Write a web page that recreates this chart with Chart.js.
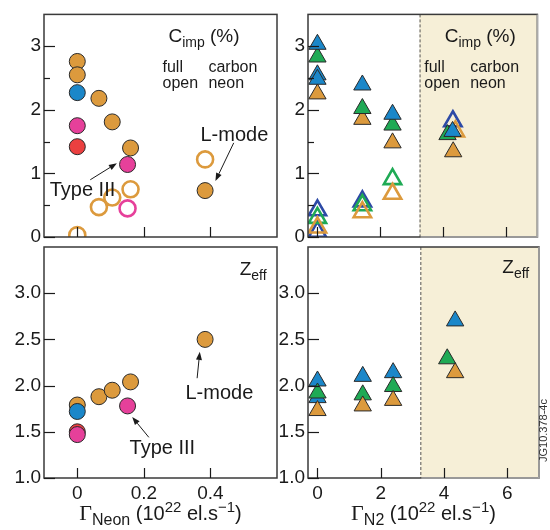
<!DOCTYPE html>
<html>
<head>
<meta charset="utf-8">
<script src="https://cdn.jsdelivr.net/npm/chart.js@4.4.0/dist/chart.umd.min.js"></script>
<style>
  body { margin: 0; background: #fff; }
  #wrap { position: relative; width: 550px; height: 530px; overflow: hidden; }
  canvas { position: absolute; left: 0; top: 0; }
</style>
</head>
<body>
<div id="wrap">
  <canvas id="cTL" width="550" height="530"></canvas>
  <canvas id="cTR" width="550" height="530"></canvas>
  <canvas id="cBL" width="550" height="530"></canvas>
  <canvas id="cBR" width="550" height="530"></canvas>
</div>
<script>
// ---- data: C_imp vs neon puff (top left) ----
const neonCarbonOrangeX = [0, 0, 0.065, 0.105, 0.16, 0.384];
const neonCarbonOrangeY = [2.76, 2.55, 2.18, 1.81, 1.40, 0.73];
const neonCarbonBlueX = [0];
const neonCarbonBlueY = [2.27];
const neonCarbonPinkX = [0, 0.151];
const neonCarbonPinkY = [1.75, 1.14];
const neonCarbonRedX = [0];
const neonCarbonRedY = [1.42];
const neonNeonOrangeX = [0, 0.065, 0.105, 0.16, 0.384];
const neonNeonOrangeY = [0.03, 0.47, 0.62, 0.75, 1.22];
const neonNeonPinkX = [0.151];
const neonNeonPinkY = [0.45];

// ---- data: Zeff vs neon puff (bottom left) ----
const neonZeffOrangeX = [0, 0.065, 0.105, 0.16, 0.384];
const neonZeffOrangeY = [1.79, 1.88, 1.95, 2.04, 2.50];
const neonZeffBlueX = [0];
const neonZeffBlueY = [1.72];
const neonZeffRedX = [0];
const neonZeffRedY = [1.50];
const neonZeffPinkX = [0, 0.151];
const neonZeffPinkY = [1.47, 1.78];

// ---- data: C_imp vs N2 puff (top right) ----
const n2CarbonBlueX = [0, 0, 0, 1.43, 2.39, 4.30];
const n2CarbonBlueY = [3.03, 2.55, 2.48, 2.39, 1.93, 1.66];
const n2CarbonGreenX = [0, 1.43, 2.39, 4.14];
const n2CarbonGreenY = [2.83, 2.02, 1.76, 1.61];
const n2CarbonOrangeX = [0, 1.43, 2.39, 4.32];
const n2CarbonOrangeY = [2.25, 1.85, 1.48, 1.34];
const n2NeonNavyX = [0, 0, 1.43, 4.31];
const n2NeonNavyY = [0.42, 0.08, 0.56, 1.82];
const n2NeonGreenX = [0, 1.43, 2.39];
const n2NeonGreenY = [0.30, 0.50, 0.91];
const n2NeonOrangeX = [0, 1.43, 2.39, 4.39];
const n2NeonOrangeY = [0.15, 0.39, 0.68, 1.66];

// ---- data: Zeff vs N2 puff (bottom right) ----
const n2ZeffBlueX = [0, 0, 1.43, 2.39, 4.35];
const n2ZeffBlueY = [2.05, 1.87, 2.10, 2.14, 2.70];
const n2ZeffGreenX = [0, 1.43, 2.39, 4.10];
const n2ZeffGreenY = [1.92, 1.90, 1.99, 2.29];
const n2ZeffOrangeX = [0, 1.43, 2.39, 4.35];
const n2ZeffOrangeY = [1.73, 1.78, 1.84, 2.14];

// ---- ticks ----
const cimpTicks = [0, 0.5, 1, 1.5, 2, 2.5, 3];
const cimpTickLabels = ['0', '', '1', '', '2', '', '3'];
const zeffTicks = [1, 1.5, 2, 2.5, 3];
const zeffTickLabels = ['1.0', '1.5', '2.0', '2.5', '3.0'];
const neonTicks = [0, 0.2, 0.4];
const neonTickLabels = ['0', '0.2', '0.4'];
const n2Ticks = [0, 2, 4, 6];
const n2TickLabels = ['0', '2', '4', '6'];
const n2DetachStart = 3.25;   // shaded region starts here

const ORANGE = '#dc9a3d';
const BLUE = '#1b87c9';
const PINK = '#e6409a';
const RED = '#eb4040';
const GREEN = '#1faa55';
const NAVY = '#2d4aa6';
const SHADE = '#f6efd7';
const SANS = '"Liberation Sans", Arial, sans-serif';
const SERIF = '"Liberation Serif", "Times New Roman", serif';
const INK = '#1a1a1a';

function pts(xs, ys) {
  return xs.map((x, i) => ({ x: x, y: ys[i] }));
}

function full(xs, ys, color, style) {
  return {
    data: pts(xs, ys), pointStyle: style, backgroundColor: color,
    borderColor: '#2a2a2a', borderWidth: 1,
    pointRadius: style === 'circle' ? 8 : 10, showLine: false
  };
}

function open(xs, ys, color, style) {
  return {
    data: pts(xs, ys), pointStyle: style, backgroundColor: 'rgba(0,0,0,0)',
    borderColor: color, borderWidth: 2.6,
    pointRadius: style === 'circle' ? 8 : 10, showLine: false
  };
}

// rich text: parts = [text, size, dy, serif]
function richWidth(ctx, parts) {
  let w = 0;
  parts.forEach(p => {
    ctx.font = p[1] + 'px ' + (p[3] ? SERIF : SANS);
    w += ctx.measureText(p[0]).width;
  });
  return w;
}
function drawRich(ctx, x, y, parts, center) {
  let cx = center ? x - richWidth(ctx, parts) / 2 : x;
  ctx.textAlign = 'left';
  ctx.textBaseline = 'alphabetic';
  parts.forEach(p => {
    ctx.font = p[1] + 'px ' + (p[3] ? SERIF : SANS);
    ctx.fillText(p[0], cx, y + (p[2] || 0));
    cx += ctx.measureText(p[0]).width;
  });
}

function drawArrow(ctx, x1, y1, x2, y2) {
  const a = Math.atan2(y2 - y1, x2 - x1);
  const hl = 8, hw = 3;
  const bx = x2 - hl * Math.cos(a), by = y2 - hl * Math.sin(a);
  ctx.strokeStyle = INK;
  ctx.fillStyle = INK;
  ctx.lineWidth = 1;
  ctx.beginPath();
  ctx.moveTo(x1, y1);
  ctx.lineTo(bx, by);
  ctx.stroke();
  ctx.beginPath();
  ctx.moveTo(x2, y2);
  ctx.lineTo(bx + hw * Math.sin(a), by - hw * Math.cos(a));
  ctx.lineTo(bx - hw * Math.sin(a), by + hw * Math.cos(a));
  ctx.closePath();
  ctx.fill();
}

// frame, inner ticks, shading and annotations for one panel
function panelPlugin(cfg) {
  return {
    id: 'panel',
    beforeDatasetsDraw(chart) {
      if (cfg.shadeFrom === undefined) return;
      const ctx = chart.ctx, a = chart.chartArea;
      const xs = chart.scales.x.getPixelForValue(cfg.shadeFrom);
      ctx.save();
      ctx.fillStyle = SHADE;
      ctx.fillRect(xs, a.top, a.right - xs, a.bottom - a.top);
      ctx.strokeStyle = '#555';
      ctx.lineWidth = 1;
      ctx.setLineDash([3, 2]);
      ctx.beginPath();
      ctx.moveTo(xs + 0.5, a.top);
      ctx.lineTo(xs + 0.5, a.bottom);
      ctx.stroke();
      ctx.restore();
    },
    afterDatasetsDraw(chart) {
      const ctx = chart.ctx, a = chart.chartArea;
      const sx = chart.scales.x, sy = chart.scales.y;
      ctx.save();
      ctx.strokeStyle = '#3a3a3a';
      ctx.lineWidth = 1.5;
      ctx.strokeRect(a.left, a.top, a.right - a.left, a.bottom - a.top);
      if (cfg.shadeFrom !== undefined) {
        const xs = sx.getPixelForValue(cfg.shadeFrom);
        ctx.strokeStyle = '#aaa';
        ctx.beginPath();
        ctx.moveTo(xs + 1, a.bottom);
        ctx.lineTo(a.right, a.bottom);
        ctx.lineTo(a.right, a.top);
        ctx.stroke();
      }
      // inward tick marks
      ctx.strokeStyle = INK;
      ctx.lineWidth = 1.2;
      sy.ticks.forEach((t, i) => {
        const y = Math.round(sy.getPixelForValue(t.value)) + 0.5;
        const len = cfg.yLabels[i] ? 11 : 6;
        ctx.beginPath();
        ctx.moveTo(a.left, y);
        ctx.lineTo(a.left + len, y);
        ctx.stroke();
      });
      sx.ticks.forEach(t => {
        const x = Math.round(sx.getPixelForValue(t.value)) + 0.5;
        ctx.beginPath();
        ctx.moveTo(x, a.bottom);
        ctx.lineTo(x, a.bottom - 10);
        ctx.stroke();
      });
      // texts
      ctx.fillStyle = INK;
      cfg.texts.forEach(tx => {
        drawRich(ctx, sx.getPixelForValue(tx.x), sy.getPixelForValue(tx.y), tx.parts, false);
      });
      cfg.arrows.forEach(ar => {
        drawArrow(ctx, sx.getPixelForValue(ar[0]), sy.getPixelForValue(ar[1]),
          sx.getPixelForValue(ar[2]), sy.getPixelForValue(ar[3]));
      });
      if (cfg.title) {
        ctx.fillStyle = INK;
        drawRich(ctx, (a.left + a.right) / 2, 520, cfg.title, true);
      }
      if (cfg.code) {
        ctx.save();
        ctx.translate(547, 462);
        ctx.rotate(-Math.PI / 2);
        ctx.font = '11px ' + SANS;
        ctx.fillStyle = '#333';
        ctx.textAlign = 'left';
        ctx.fillText(cfg.code, 0, 0);
        ctx.restore();
      }
      ctx.restore();
    }
  };
}

const Y_AXIS_W = 40;
const X_AXIS_H = 34;

function makePanel(id, box, datasets, xr, yr, cfg) {
  const tickFont = { family: SANS, size: 19 };
  const xh = cfg.showX ? X_AXIS_H : 0;
  new Chart(document.getElementById(id), {
    type: 'scatter',
    data: { datasets: datasets.map(d => Object.assign({ clip: 0 }, d)) },
    options: {
      responsive: false,
      animation: false,
      events: [],
      layout: { padding: { left: box.l - Y_AXIS_W, top: box.t, right: 550 - box.r, bottom: 530 - box.b - xh } },
      plugins: { legend: { display: false }, tooltip: { enabled: false } },
      scales: {
        x: {
          type: 'linear', min: xr[0], max: xr[1],
          afterBuildTicks: s => { s.ticks = cfg.xTicks.map(v => ({ value: v })); },
          afterFit: s => { s.height = xh; },
          grid: { display: false, drawTicks: false },
          border: { display: false },
          ticks: {
            display: cfg.showX, padding: 4, font: tickFont, color: INK,
            autoSkip: false, maxRotation: 0,
            callback: (v, i) => cfg.xLabels[i]
          }
        },
        y: {
          type: 'linear', min: yr[0], max: yr[1],
          afterBuildTicks: s => { s.ticks = cfg.yTicks.map(v => ({ value: v })); },
          afterFit: s => { s.width = Y_AXIS_W; },
          grid: { display: false, drawTicks: false },
          border: { display: false },
          ticks: {
            padding: 3, font: tickFont, color: INK, autoSkip: false,
            callback: (v, i) => cfg.yLabels[i]
          }
        }
      }
    },
    plugins: [panelPlugin(cfg)]
  });
}

const cimpTitle = [['C', 19], ['imp', 14, 5], [' (%)', 19]];
const zeffTitle = [['Z', 19], ['eff', 14, 5]];
const legendTexts = (x1, x2) => [
  { x: x1, y: 2.59, parts: [['full', 16]] },
  { x: x1, y: 2.34, parts: [['open', 16]] },
  { x: x2, y: 2.59, parts: [['carbon', 16]] },
  { x: x2, y: 2.34, parts: [['neon', 16]] }
];

makePanel('cTL', { l: 44, t: 7, r: 277, b: 237 }, [
  full(neonCarbonPinkX, neonCarbonPinkY, PINK, 'circle'),
  full(neonCarbonBlueX, neonCarbonBlueY, BLUE, 'circle'),
  full(neonCarbonRedX, neonCarbonRedY, RED, 'circle'),
  full(neonCarbonOrangeX, neonCarbonOrangeY, ORANGE, 'circle'),
  open(neonNeonPinkX, neonNeonPinkY, PINK, 'circle'),
  open(neonNeonOrangeX, neonNeonOrangeY, ORANGE, 'circle')
], [-0.1, 0.6], [0, 3.5], {
  xTicks: neonTicks, xLabels: neonTickLabels, showX: false,
  yTicks: cimpTicks, yLabels: cimpTickLabels,
  texts: [
    { x: 0.274, y: 3.06, parts: cimpTitle },
    ...legendTexts(0.256, 0.394),
    { x: 0.37, y: 1.51, parts: [['L-mode', 20]] },
    { x: -0.083, y: 0.64, parts: [['Type III', 20]] }
  ],
  arrows: [[0.47, 1.48, 0.415, 0.88], [0.039, 0.90, 0.119, 1.16]]
});

makePanel('cTR', { l: 308, t: 7, r: 539, b: 237 }, [
  full(n2CarbonBlueX, n2CarbonBlueY, BLUE, 'triangle'),
  full(n2CarbonGreenX, n2CarbonGreenY, GREEN, 'triangle'),
  full(n2CarbonOrangeX, n2CarbonOrangeY, ORANGE, 'triangle'),
  open(n2NeonOrangeX, n2NeonOrangeY, ORANGE, 'triangle'),
  open(n2NeonGreenX, n2NeonGreenY, GREEN, 'triangle'),
  open(n2NeonNavyX, n2NeonNavyY, NAVY, 'triangle')
], [-0.3, 7], [0, 3.5], {
  xTicks: n2Ticks, xLabels: n2TickLabels, showX: false,
  yTicks: cimpTicks, yLabels: cimpTickLabels, shadeFrom: n2DetachStart,
  texts: [
    { x: 4.05, y: 3.06, parts: cimpTitle },
    ...legendTexts(3.40, 4.86)
  ],
  arrows: []
});

makePanel('cBL', { l: 44, t: 247, r: 277, b: 478 }, [
  full(neonZeffPinkX, neonZeffPinkY, PINK, 'circle'),
  full(neonZeffBlueX, neonZeffBlueY, BLUE, 'circle'),
  full(neonZeffRedX, neonZeffRedY, RED, 'circle'),
  full(neonZeffOrangeX, neonZeffOrangeY, ORANGE, 'circle')
], [-0.1, 0.6], [1, 3.5], {
  xTicks: neonTicks, xLabels: neonTickLabels, showX: true,
  yTicks: zeffTicks, yLabels: zeffTickLabels,
  texts: [
    { x: 0.488, y: 3.2, parts: zeffTitle },
    { x: 0.325, y: 1.85, parts: [['L-mode', 20]] },
    { x: 0.157, y: 1.26, parts: [['Type III', 20]] }
  ],
  arrows: [[0.36, 2.08, 0.368, 2.365], [0.215, 1.44, 0.165, 1.66]],
  title: [['\u0393', 22, 0, true], ['Neon', 16, 5], [' (10', 20], ['22', 15, -8], [' el.s', 20], ['\u22121', 15, -8], [')', 20]]
});

makePanel('cBR', { l: 308, t: 247, r: 539, b: 478 }, [
  full(n2ZeffOrangeX, n2ZeffOrangeY, ORANGE, 'triangle'),
  full(n2ZeffGreenX, n2ZeffGreenY, GREEN, 'triangle'),
  full(n2ZeffBlueX, n2ZeffBlueY, BLUE, 'triangle')
], [-0.3, 7], [1, 3.5], {
  xTicks: n2Ticks, xLabels: n2TickLabels, showX: true,
  yTicks: zeffTicks, yLabels: zeffTickLabels, shadeFrom: n2DetachStart,
  texts: [
    { x: 5.84, y: 3.22, parts: zeffTitle }
  ],
  arrows: [],
  title: [['\u0393', 22, 0, true], ['N2', 16, 5], [' (10', 20], ['22', 15, -8], [' el.s', 20], ['\u22121', 15, -8], [')', 20]],
  code: 'JG10.378-4c'
});
</script>
</body>
</html>
